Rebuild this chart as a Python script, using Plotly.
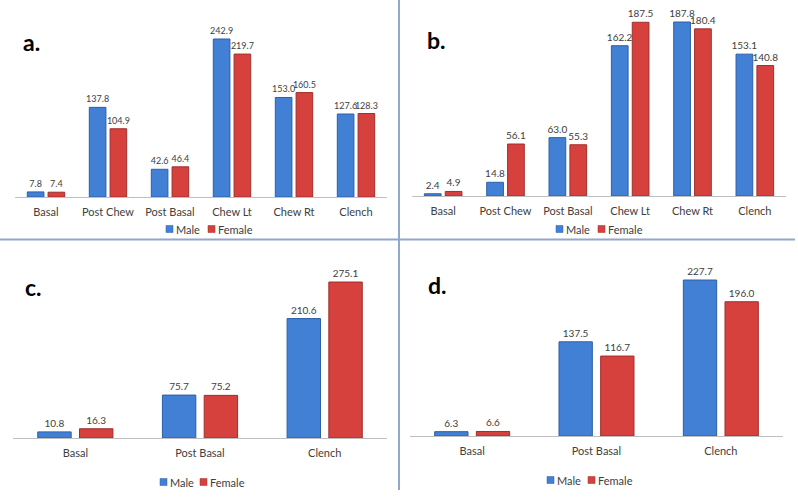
import plotly.graph_objects as go

# ---- data ----
cats_ab = ["Basal", "Post Chew", "Post Basal", "Chew Lt", "Chew Rt", "Clench"]
cats_cd = ["Basal", "Post Basal", "Clench"]

a_male = [7.8, 137.8, 42.6, 242.9, 153.0, 127.6]
a_female = [7.4, 104.9, 46.4, 219.7, 160.5, 128.3]

b_male = [2.4, 14.8, 63.0, 162.2, 187.8, 153.1]
b_female = [4.9, 56.1, 55.3, 187.5, 180.4, 140.8]

c_male = [10.8, 75.7, 210.6]
c_female = [16.3, 75.2, 275.1]

d_male = [6.3, 137.5, 227.7]
d_female = [6.6, 116.7, 196.0]

series_names = ["Male", "Female"]
panel_labels = ["a.", "b.", "c.", "d."]

# ---- style ----
FONT = "Lato, 'Open Sans', sans-serif"
TXT = "#404040"
BLUE, BLUE_E = "#4280D6", "#2C5EA8"
RED, RED_E = "#D6413E", "#A02E2C"
DIV = "#8FA8CC"

W, H = 798, 499


def px_x(x):
    return x / W


def px_y(y):
    return 1 - y / H


panels = [
    dict(cats=cats_ab, m=a_male, f=a_female, x0=15, x1=387, base=197, top=10, scale=0.6505,
         leg=[(166, 174), (208, 216)], legy=229, vsize=9),
    dict(cats=cats_ab, m=b_male, f=b_female, x0=412, x1=786, base=196, top=10, scale=0.9265,
         leg=[(556, 564), (598, 606)], legy=229, vsize=10),
    dict(cats=cats_cd, m=c_male, f=c_female, x0=13, x1=387, base=438, top=260, scale=0.567,
         leg=[(160, 168), (200, 208)], legy=482, vsize=10),
    dict(cats=cats_cd, m=d_male, f=d_female, x0=410, x1=783, base=436, top=260, scale=0.685,
         leg=[(547, 555), (588, 596)], legy=480, vsize=10),
]
label_pos = [(31, 42), (436, 40), (33, 287), (437, 285)]

fig = go.Figure()
layout = dict(
    width=W, height=H,
    margin=dict(l=0, r=0, t=0, b=0),
    paper_bgcolor="white", plot_bgcolor="white",
    barmode="group", bargap=0.33, bargroupgap=0.2,
    font=dict(family=FONT, color=TXT, size=11),
    showlegend=False,
)

for i, p in enumerate(panels):
    n = "" if i == 0 else str(i + 1)
    for name, vals, col, edge in [(series_names[0], p["m"], BLUE, BLUE_E),
                                  (series_names[1], p["f"], RED, RED_E)]:
        fig.add_trace(go.Bar(
            x=p["cats"], y=vals, name=name,
            marker=dict(color=col, line=dict(color=edge, width=1)),
            texttemplate="%{y:.1f}", textposition="outside",
            textfont=dict(size=p["vsize"], color=TXT, family=FONT),
            constraintext="none", cliponaxis=False,
            xaxis="x" + n, yaxis="y" + n,
        ))
    rmax = (p["base"] - p["top"]) / p["scale"]
    layout["xaxis" + n] = dict(
        domain=[px_x(p["x0"]), px_x(p["x1"])],
        anchor="y" + n, showline=True, linecolor="#BFBFBF", linewidth=1,
        ticks="", showgrid=False, tickfont=dict(size=11, color=TXT, family=FONT),
        ticklabelstandoff=5, fixedrange=True,
    )
    layout["yaxis" + n] = dict(
        domain=[px_y(p["base"]), px_y(p["top"])],
        anchor="x" + n, range=[0, rmax], visible=False, showgrid=False,
        fixedrange=True,
    )
    # manual compact legend (square swatch + label)
    for (sx, tx), name, col, edge in zip(p["leg"], series_names, [BLUE, RED], [BLUE_E, RED_E]):
        yc = p["legy"]
        fig.add_shape(type="rect", xref="paper", yref="paper",
                      x0=px_x(sx), x1=px_x(sx + 7), y0=px_y(yc + 3.5), y1=px_y(yc - 3.5),
                      fillcolor=col, line=dict(color=edge, width=0.5))
        fig.add_annotation(text=name, x=px_x(tx), y=px_y(yc), xref="paper", yref="paper",
                           xanchor="left", yanchor="middle", showarrow=False,
                           font=dict(size=11, color=TXT, family=FONT))

fig.update_layout(**layout)

for lab, (x, y) in zip(panel_labels, label_pos):
    fig.add_annotation(
        text=f"<b>{lab}</b>", x=px_x(x), y=px_y(y), xref="paper", yref="paper",
        xanchor="center", yanchor="middle", showarrow=False,
        font=dict(size=23, color="#000000", family=FONT),
    )

# divider lines
fig.add_shape(type="line", xref="paper", yref="paper",
              x0=px_x(399), x1=px_x(399), y0=px_y(0), y1=px_y(490),
              line=dict(color=DIV, width=2))
fig.add_shape(type="line", xref="paper", yref="paper",
              x0=0, x1=px_x(795), y0=px_y(239.5), y1=px_y(239.5),
              line=dict(color=DIV, width=2))

fig.write_html("out.html", config={"displayModeBar": False},
               post_script="document.body.style.margin='0';")
